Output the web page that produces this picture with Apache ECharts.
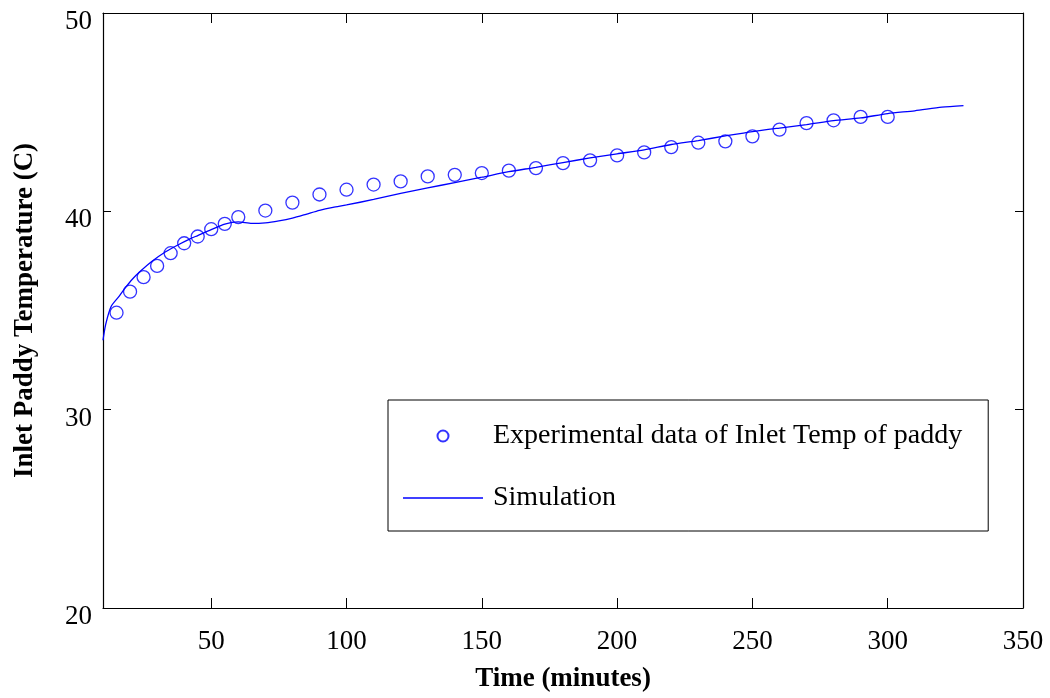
<!DOCTYPE html>
<html>
<head>
<meta charset="utf-8">
<script src="https://cdn.jsdelivr.net/npm/echarts@6/dist/echarts.min.js"></script>
<style>
  html, body { margin: 0; padding: 0; background: #fff; }
  #chart { width: 1050px; height: 698px; }
</style>
</head>
<body>
<div id="chart"></div>
<script>
// Measured inlet paddy temperature (minutes, °C)
const expTime = [15, 20, 25, 30, 35, 40, 45, 50, 55, 60, 70, 80, 90, 100, 110, 120, 130, 140, 150,
  160, 170, 180, 190, 200, 210, 220, 230, 240, 250, 260, 270, 280, 290, 300];
const expTemp = [34.89, 35.95, 36.68, 37.25, 37.89, 38.39, 38.73, 39.10, 39.37, 39.71, 40.04, 40.44,
  40.85, 41.09, 41.35, 41.51, 41.76, 41.84, 41.93, 42.05, 42.18, 42.43, 42.57, 42.82, 42.97, 43.24,
  43.46, 43.53, 43.78, 44.12, 44.45, 44.59, 44.76, 44.76];

// Model output
const simTime = [10, 11, 13, 16, 18, 21, 24, 28, 33, 38, 42, 45, 50, 55, 60, 65, 70, 75, 80, 85, 90,
  95, 100, 110, 120, 130, 140, 150, 160, 170, 180, 190, 200, 210, 220, 230, 240, 250, 260, 270, 280,
  290, 300, 310, 320, 328];
const simTemp = [33.5, 34.3, 35.2, 35.72, 36.1, 36.6, 37.0, 37.47, 37.95, 38.33, 38.6, 38.78, 39.08,
  39.36, 39.47, 39.39, 39.42, 39.52, 39.66, 39.85, 40.05, 40.2, 40.32, 40.6, 40.9, 41.18, 41.45, 41.72,
  42.0, 42.22, 42.46, 42.69, 42.9, 43.1, 43.37, 43.57, 43.8, 44.02, 44.2, 44.37, 44.57, 44.71, 44.93,
  45.07, 45.25, 45.33];

const xTicks = [50, 100, 150, 200, 250, 300, 350];

const expName = 'Experimental data of Inlet Temp of paddy';
const simName = 'Simulation';

const FONT = '"Liberation Serif", "Times New Roman", serif';
const BLUE = '#0000ff';

const chart = echarts.init(document.getElementById('chart'), null, { renderer: 'canvas' });

const axisLine = { show: true, lineStyle: { color: '#000', width: 1.2 } };

chart.setOption({
  animation: false,
  backgroundColor: '#fff',
  grid: { left: 103, right: 27, top: 13, bottom: 90, containLabel: false },
  xAxis: [
    {
      type: 'value', min: 10, max: 350, position: 'bottom',
      name: 'Time (minutes)', nameLocation: 'middle', nameGap: 58,
      nameTextStyle: { fontFamily: FONT, fontSize: 27, fontWeight: 'bold', color: '#000' },
      axisLine,
      axisTick: { show: true, inside: true, length: 10, customValues: xTicks, lineStyle: { color: '#000' } },
      axisLabel: { customValues: xTicks, margin: 20, fontFamily: FONT, fontSize: 27, color: '#000' },
      splitLine: { show: false }
    },
    {
      type: 'value', min: 10, max: 350, position: 'top',
      axisLine,
      axisTick: { show: true, inside: true, length: 10, customValues: xTicks, lineStyle: { color: '#000' } },
      axisLabel: { show: false },
      splitLine: { show: false }
    }
  ],
  yAxis: [
    {
      type: 'value', min: 20, max: 50, interval: 10, position: 'left',
      name: 'Inlet Paddy Temperature (C)', nameLocation: 'middle', nameGap: 64,
      nameTextStyle: { fontFamily: FONT, fontSize: 27, fontWeight: 'bold', color: '#000' },
      axisLine,
      axisTick: { show: true, inside: true, length: 8, lineStyle: { color: '#000' } },
      axisLabel: {
        margin: 11, fontFamily: FONT, fontSize: 27, color: '#000',
        verticalAlign: 'top', lineHeight: 18
      },
      splitLine: { show: false }
    },
    {
      type: 'value', min: 20, max: 50, interval: 10, position: 'right',
      axisLine,
      axisTick: { show: true, inside: true, length: 8, lineStyle: { color: '#000' } },
      axisLabel: { show: false },
      splitLine: { show: false }
    }
  ],
  legend: {
    orient: 'vertical',
    left: 388, top: 400,
    padding: [21, 26, 18, 15],
    itemWidth: 80, itemHeight: 11, itemGap: 32,
    borderColor: '#000', borderWidth: 1, backgroundColor: '#fff',
    textStyle: { fontFamily: FONT, fontSize: 28, color: '#000', lineHeight: 30, padding: [0, 0, 0, 5] },
    data: [
      { name: expName },
      { name: simName, icon: 'path://M0,0H80V1.3H0Z' }
    ]
  },
  series: [
    {
      name: expName, type: 'scatter',
      data: expTime.map((t, i) => [t, expTemp[i]]),
      symbol: 'circle', symbolSize: 13,
      itemStyle: { color: 'rgba(0,0,0,0)', borderColor: BLUE, borderWidth: 1.3 },
      z: 3
    },
    {
      name: simName, type: 'line',
      data: simTime.map((t, i) => [t, simTemp[i]]),
      showSymbol: false, symbol: 'none', smooth: 0.25,
      lineStyle: { color: BLUE, width: 1.3 },
      itemStyle: { color: BLUE },
      z: 2
    }
  ]
});
</script>
</body>
</html>
